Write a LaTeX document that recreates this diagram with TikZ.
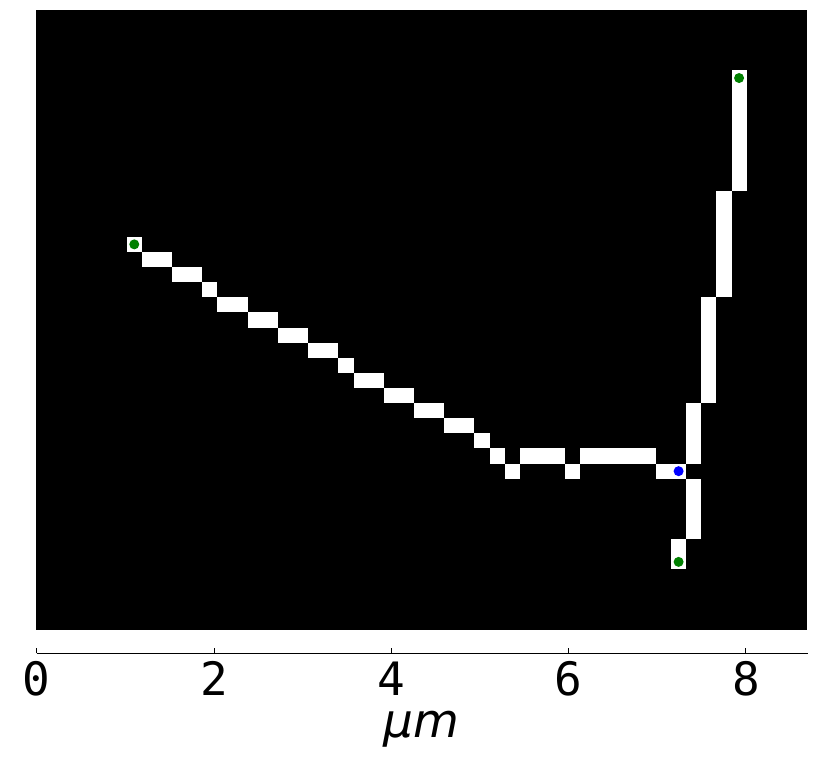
\documentclass[tikz,border=0pt]{standalone}
\usepackage{fontspec}
\newfontfamily\tickfont{DejaVu Sans Mono}
\newfontfamily\labelfont{DejaVu Sans}
\definecolor{mplgreen}{RGB}{0,128,0}
\definecolor{mplblue}{RGB}{0,0,255}
\tikzset{
  pixrun/.style={fill=white},
  endpt/.style={circle, fill=mplgreen, inner sep=0pt, minimum size=10pt},
  branchpt/.style={circle, fill=mplblue, inner sep=0pt, minimum size=10pt},
  ticklabel/.style={anchor=base, inner sep=0pt, font=\tickfont\fontsize{46}{52}\selectfont},
  axislabel/.style={anchor=base, inner sep=0pt, font=\labelfont\itshape\fontsize{47}{54}\selectfont}
}
\begin{document}
\begin{tikzpicture}[x=1pt,y=-1pt]
\useasboundingbox (0,0) rectangle (830,760);
\def\ps{15.12}
% image background
\fill[black] (36,10) rectangle (807.3,630);
% skeleton pixels (runs: col from/col to/row from/row to)
\foreach \ca/\cb/\ra/\rb in {
  6/6/15/15, 7/8/16/16, 9/10/17/17, 11/11/18/18, 12/13/19/19,
  14/15/20/20, 16/17/21/21, 18/19/22/22, 20/20/23/23, 21/22/24/24,
  23/24/25/25, 25/26/26/26, 27/28/27/27, 29/29/28/28, 30/30/29/29,
  31/31/30/30, 32/34/29/29, 35/35/30/30, 36/40/29/29, 41/42/30/30,
  43/43/26/29, 43/43/31/34, 42/42/35/36, 44/44/19/25, 45/45/12/18,
  46/46/4/11}
  \fill[pixrun] ({36+\ca*\ps},{10+\ra*\ps}) rectangle ({36+(\cb+1)*\ps},{10+(\rb+1)*\ps});
% marked points
\node[endpt] (e1) at ({36+6.5*\ps},{10+15.5*\ps}) {};
\node[endpt] (e2) at ({36+46.5*\ps},{10+4.5*\ps}) {};
\node[endpt] (e3) at ({36+42.5*\ps},{10+36.5*\ps}) {};
\node[branchpt] (b1) at ({36+42.5*\ps},{10+30.5*\ps}) {};
% x axis
\coordinate (axL) at (36.7,653);
\coordinate (axR) at (807.5,653);
\draw[line width=1pt] (axL) -- (axR);
\foreach \k in {0,2,4,6,8} {
  \coordinate (t\k) at ({36.7+\k*88.65},653);
  \draw[line width=1pt] (t\k) -- ++(0,-5);
  \node[ticklabel] (l\k) at ({36.7+\k*88.65},695) {\k};
}
\node[axislabel] (xl) at (421,737) {μm};
\end{tikzpicture}
\end{document}
